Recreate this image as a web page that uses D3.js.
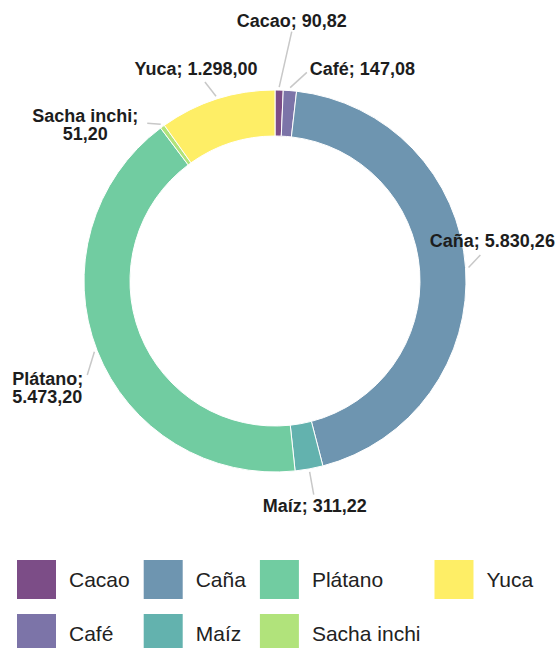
<!DOCTYPE html>
<html>
<head>
<meta charset="utf-8">
<script src="https://cdn.jsdelivr.net/npm/d3@7"></script>
<style>
  html, body { margin: 0; padding: 0; background: #fff; }
  svg { display: block; font-family: "Liberation Sans", Arial, sans-serif; }
</style>
</head>
<body>
<svg id="chart" width="559" height="648"></svg>
<script>
// data
const crops = ["Cacao", "Café", "Caña", "Maíz", "Plátano", "Sacha inchi", "Yuca"];
const values = [90.82, 147.08, 5830.26, 311.22, 5473.20, 51.20, 1298.00];
// legend order (two rows, filled column by column)
const legendOrder = ["Cacao", "Café", "Caña", "Maíz", "Plátano", "Sacha inchi", "Yuca"];
// label text lines (as shown on the chart)
const labelLines = {
  "Cacao": ["Cacao; 90,82"],
  "Café": ["Café; 147,08"],
  "Caña": ["Caña; 5.830,26"],
  "Maíz": ["Maíz; 311,22"],
  "Plátano": ["Plátano;", "5.473,20"],
  "Sacha inchi": ["Sacha inchi;", "51,20"],
  "Yuca": ["Yuca; 1.298,00"]
};

// label placement: angle shift (deg) and radius of the leader end, text offset
const labelPlace = {
  "Cacao":       { shift: 2.6,  r: 250, anchor: "middle", dx: 0,   dy: -5 },
  "Café":        { shift: 4.2,  r: 211, anchor: "start",  dx: 3,   dy: 3 },
  "Caña":        { shift: -3.2, r: 207, anchor: "middle", dx: 12,  dy: -8 },
  "Maíz":        { shift: 0,    r: 217, anchor: "middle", dx: 1,   dy: 17 },
  "Plátano":     { shift: -5.2, r: 210, anchor: "start",  dx: -75, dy: 10 },
  "Sacha inchi": { shift: -2.9, r: 203, anchor: "middle", dx: -62, dy: -1 },
  "Yuca":        { shift: -1.7, r: 211, anchor: "middle", dx: -9,  dy: -7 }
};

const cx = 275, cy = 281;
const outerR = 191, innerR = 145;

const color = d3.scaleOrdinal()
  .domain(crops)
  .range(crops.map((c, i) => d3.interpolateViridis(i / (crops.length - 1))));

const svg = d3.select("#chart");
const g = svg.append("g").attr("transform", `translate(${cx},${cy})`);

const pie = d3.pie().sort(null).value(d => d.value);
const arcs = pie(crops.map((c, i) => ({ name: c, value: values[i] })));

const arc = d3.arc().innerRadius(innerR).outerRadius(outerR);

g.append("g").selectAll("path")
  .data(arcs)
  .join("path")
  .attr("d", arc)
  .attr("fill", d => color(d.data.name))
  .attr("fill-opacity", 0.7)
  .attr("stroke", "#fff")
  .attr("stroke-width", 1);

const polar = (a, r) => [r * Math.sin(a), -r * Math.cos(a)];

// leader lines + labels
const labels = g.append("g");
arcs.forEach(d => {
  const p = labelPlace[d.data.name];
  const mid = (d.startAngle + d.endAngle) / 2;
  const s = polar(mid, outerR + 3);
  const e = polar(mid + p.shift * Math.PI / 180, p.r);
  labels.append("line")
    .attr("x1", s[0]).attr("y1", s[1])
    .attr("x2", e[0]).attr("y2", e[1])
    .attr("stroke", "#c8c8c8")
    .attr("stroke-width", 1.5);
  const t = labels.append("text")
    .attr("text-anchor", p.anchor)
    .attr("font-size", 18)
    .attr("font-weight", "bold")
    .attr("fill", "#1d1d1d");
  labelLines[d.data.name].forEach((line, i) => {
    t.append("tspan")
      .attr("x", e[0] + p.dx)
      .attr("y", e[1] + p.dy + i * 17.5)
      .text(line);
  });
});

// legend
const legend = svg.append("g").attr("transform", "translate(17,560)");
const sw = 39, rowH = 54, textGap = 13, colGap = 14;
const rows = 2;
let x = 0;
for (let c = 0; c * rows < legendOrder.length; c++) {
  const items = legendOrder.slice(c * rows, c * rows + rows);
  let maxW = 0;
  items.forEach((name, r) => {
    const item = legend.append("g").attr("transform", `translate(${x},${r * rowH})`);
    item.append("rect")
      .attr("width", sw).attr("height", sw)
      .attr("fill", color(name))
      .attr("fill-opacity", 0.7);
    const t = item.append("text")
      .attr("x", sw + textGap)
      .attr("y", sw / 2 + 7)
      .attr("font-size", 21)
      .attr("fill", "#222")
      .text(name);
    maxW = Math.max(maxW, t.node().getComputedTextLength());
  });
  x += sw + textGap + maxW + colGap;
}
</script>
</body>
</html>
